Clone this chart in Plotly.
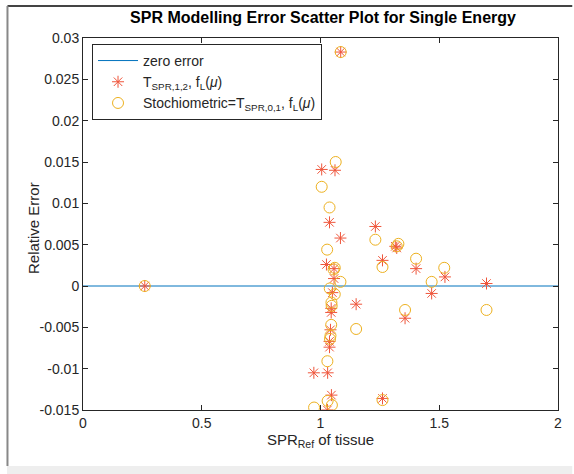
import plotly.graph_objects as go

# ---- data ----
star_x = [0.26, 1.085, 1.005, 1.061, 1.038, 1.084, 1.231, 1.321, 1.315, 1.261,
          1.025, 1.057, 1.057, 1.4025, 1.524, 1.699, 1.468, 1.050, 1.150, 1.045,
          1.045, 1.356, 1.042, 1.038, 1.038, 0.972, 1.030, 1.046, 1.261, 1.029]
star_y = [0.0, 0.0283, 0.0141, 0.0140, 0.0077, 0.0058, 0.0072, 0.0046, 0.0048, 0.0031,
          0.0026, 0.0021, 0.0009, 0.0021, 0.0011, 0.0003, -0.0009, -0.0008, -0.0022, -0.0027,
          -0.0032, -0.0039, -0.0053, -0.0067, -0.0074, -0.0105, -0.0105, -0.0132, -0.0136, -0.0150]

circ_x = [0.26, 1.085, 1.064, 1.005, 1.038, 1.231, 1.028, 1.328, 1.321, 1.4025,
          1.261, 1.521, 1.060, 1.055, 1.084, 1.468, 1.039, 1.060, 1.046, 1.047,
          1.356, 1.699, 1.150, 1.045, 1.042, 1.040, 1.029, 1.030, 1.048, 1.261, 0.973]
circ_y = [0.0, 0.0283, 0.0150, 0.0120, 0.0095, 0.0056, 0.0044, 0.0051, 0.0048, 0.0033,
          0.0023, 0.0022, 0.0022, 0.0020, 0.0005, 0.0005, -0.0003, -0.0010, -0.0020, -0.0024,
          -0.0029, -0.0029, -0.0052, -0.0047, -0.0060, -0.0064, -0.0091, -0.0139, -0.0144, -0.0138, -0.0147]

zero_x = [0, 2]
zero_y = [0, 0]

x_ticks = [0, 0.5, 1, 1.5, 2]
x_ticktext = ["0", "0.5", "1", "1.5", "2"]
y_ticks = [0.03, 0.025, 0.02, 0.015, 0.01, 0.005, 0, -0.005, -0.01, -0.015]
y_ticktext = ["0.03", "0.025", "0.02", "0.015", "0.01", "0.005", "0", "-0.005", "-0.01", "-0.015"]

FONT = "Liberation Sans, Arial, sans-serif"
TXT = "#262626"

fig = go.Figure()
fig.add_trace(go.Scatter(x=zero_x, y=zero_y, mode="lines", name="zero error",
                         line=dict(color="#0072BD", width=1)))
fig.add_trace(go.Scatter(x=star_x, y=star_y, mode="markers",
                         name="T<sub>SPR,1,2</sub>, f<sub>L</sub>(<i>μ</i>)",
                         marker=dict(symbol="asterisk-open", size=10,
                                     line=dict(color="#D95319", width=1))))
fig.add_trace(go.Scatter(x=circ_x, y=circ_y, mode="markers",
                         name="Stochiometric=T<sub>SPR,0,1</sub>, f<sub>L</sub>(<i>μ</i>)",
                         marker=dict(symbol="circle-open", size=11, color="#EDB120",
                                     line=dict(color="#EDB120", width=1))))

axis_common = dict(showgrid=False, zeroline=False, showline=True, linecolor="#262626",
                   linewidth=1, mirror="ticks", ticks="inside", ticklen=5,
                   tickcolor="#262626", tickfont=dict(family=FONT, size=14, color=TXT))

fig.update_layout(
    width=574, height=474,
    margin=dict(l=83, r=13, t=38, b=64),
    paper_bgcolor="white", plot_bgcolor="white",
    font=dict(family=FONT, color=TXT),
    title=dict(text="<b>SPR Modelling Error Scatter Plot for Single Energy</b>",
               x=(323 / 574), xanchor="center", y=1 - 17 / 474, yanchor="middle",
               font=dict(family=FONT, size=16, color="black")),
    xaxis=dict(range=[0, 2], tickvals=x_ticks, ticktext=x_ticktext,
               title=dict(text="SPR<sub>Ref</sub> of tissue", standoff=4,
                          font=dict(family=FONT, size=15, color=TXT)),
               **axis_common),
    yaxis=dict(range=[-0.015, 0.03], tickvals=y_ticks, ticktext=y_ticktext,
               **axis_common),
    legend=dict(x=0.019, y=0.984, xanchor="left", yanchor="top",
                bgcolor="white", bordercolor="#262626", borderwidth=1,
                font=dict(family=FONT, size=14, color=TXT),
                itemwidth=40, tracegroupgap=0),
    showlegend=True,
)

fig.add_annotation(text="Relative Error", xref="paper", yref="paper",
                   x=(33 - 83) / 478, y=0.49, textangle=-90, showarrow=False,
                   xanchor="center", yanchor="middle",
                   font=dict(family=FONT, size=15, color=TXT))

# outer frame (screenshot border)
fig.add_shape(type="line", xref="paper", yref="paper", x0=-0.159, x1=1.03,
              y0=1.086, y1=1.086, line=dict(color="#444444", width=2))
fig.add_shape(type="line", xref="paper", yref="paper", x0=-0.159, x1=-0.159,
              y0=1.086, y1=-0.1505, line=dict(color="#888888", width=2))
fig.add_shape(type="rect", xref="paper", yref="paper", x0=-0.16, x1=1.03,
              y0=-0.1505, y1=-0.175, fillcolor="#eeeeee", line=dict(width=0), layer="below")

fig.write_html("out.html")
